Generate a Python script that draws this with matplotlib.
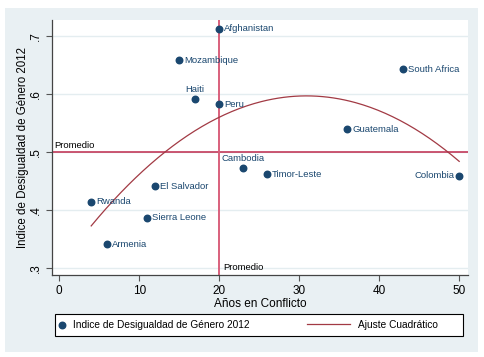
import numpy as np
import matplotlib
matplotlib.use("Agg")
from matplotlib import pyplot as plt
from matplotlib.patches import Rectangle

# Datos
paises = ["Afghanistan", "Mozambique", "Haiti", "Peru", "South Africa", "Guatemala",
          "Cambodia", "Timor-Leste", "Colombia", "El Salvador", "Rwanda",
          "Sierra Leone", "Armenia"]
anos_conflicto = [20, 15, 17, 20, 43, 36, 23, 26, 50, 12, 4, 11, 6]
indice_genero = [0.712, 0.658, 0.592, 0.582, 0.643, 0.539, 0.473, 0.462,
                 0.459, 0.441, 0.414, 0.387, 0.341]
# posicion de la etiqueta (reloj Stata): 3 derecha, 12 arriba, 9 izquierda
pos_etiqueta = [3, 3, 12, 3, 3, 3, 12, 3, 9, 3, 3, 3, 3]

promedio_y = 0.5
promedio_x = 20

x_ticks = [0, 10, 20, 30, 40, 50]
y_ticks = [0.3, 0.4, 0.5, 0.6, 0.7]
y_labels = [".3", ".4", ".5", ".6", ".7"]

plt.rcParams["font.family"] = ["Liberation Sans", "DejaVu Sans"]

azul = "#1a476f"
fondo = "#e9f0f3"

fig = plt.figure(figsize=(4.85, 3.57), dpi=100)
fig.patch.set_facecolor("white")
fig.patches.append(Rectangle((5 / 485, 1 - 352 / 357), 473 / 485, 344 / 357,
                             transform=fig.transFigure, facecolor=fondo,
                             edgecolor="none", zorder=-10))

ax = fig.add_axes([52 / 485, 1 - 275 / 357, 416 / 485, 255 / 357])
ax.set_facecolor("white")

ax.set_xlim(-0.9, 51.1)
ax.set_ylim(0.288, 0.7275)

for y in y_ticks:
    ax.axhline(y, color="#e4edf0", lw=1, zorder=1)

ax.axhline(promedio_y, color="#bf2a4c", lw=1.1, zorder=2)
ax.axvline(promedio_x, color="#d9607c", lw=1.4, zorder=2)

# ajuste cuadratico
coef = np.polyfit(anos_conflicto, indice_genero, 2)
xs = np.linspace(min(anos_conflicto), max(anos_conflicto), 200)
linea, = ax.plot(xs, np.polyval(coef, xs), color="#a23a44", lw=0.9, zorder=3)

puntos = ax.scatter(anos_conflicto, indice_genero, s=22, color=azul, zorder=4)

for nombre, x, y, p in zip(paises, anos_conflicto, indice_genero, pos_etiqueta):
    if p == 3:
        ax.annotate(nombre, (x, y), xytext=(3.5, 0), textcoords="offset points",
                    ha="left", va="center", fontsize=6.8, color=azul)
    elif p == 9:
        ax.annotate(nombre, (x, y), xytext=(-3.5, 0), textcoords="offset points",
                    ha="right", va="center", fontsize=6.8, color=azul)
    else:
        ax.annotate(nombre, (x, y), xytext=(0, 3), textcoords="offset points",
                    ha="center", va="bottom", fontsize=6.8, color=azul)

ax.text(-0.6, promedio_y + 0.003, "Promedio", fontsize=6.8, color="black",
        ha="left", va="bottom")
ax.text(promedio_x + 0.5, 0.293, "Promedio", fontsize=6.8, color="black",
        ha="left", va="bottom")

ax.set_xticks(x_ticks)
ax.set_yticks(y_ticks)
ax.set_yticklabels(y_labels, rotation=90, va="center")
ax.tick_params(axis="both", direction="out", length=4, width=0.8,
               color="#555555", labelsize=8.5, pad=3)

for lado in ["top", "right"]:
    ax.spines[lado].set_visible(False)
for lado in ["left", "bottom"]:
    ax.spines[lado].set_color("#444444")
    ax.spines[lado].set_linewidth(0.9)

ax.set_xlabel("Años en Conflicto", fontsize=8.5, labelpad=1)
ax.set_ylabel("Indice de Desigualdad de Género 2012", fontsize=8.3, labelpad=1)

# leyenda: marco comun y dos entradas
fig.patches.append(Rectangle((55 / 485, 1 - 336 / 357), 408 / 485, 22 / 357,
                             transform=fig.transFigure, facecolor="white",
                             edgecolor="black", lw=0.8, zorder=5))
leg1 = fig.legend([puntos], ["Indice de Desigualdad de Género 2012"],
                  loc="center left", bbox_to_anchor=(58 / 485, 1 - 325 / 357),
                  fontsize=7.3, frameon=False, handlelength=0.8,
                  handletextpad=0.68, borderpad=0, borderaxespad=0)
leg1.legend_handles[0].set_sizes([22])
leg2 = fig.legend([linea], ["Ajuste Cuadrático"],
                  loc="center left", bbox_to_anchor=(307 / 485, 1 - 325 / 357),
                  fontsize=7.3, frameon=False, handlelength=4.24,
                  handletextpad=0.75, borderpad=0, borderaxespad=0)
leg1.set_zorder(6)
leg2.set_zorder(6)

fig.savefig("out.png", dpi=100, facecolor="white")
